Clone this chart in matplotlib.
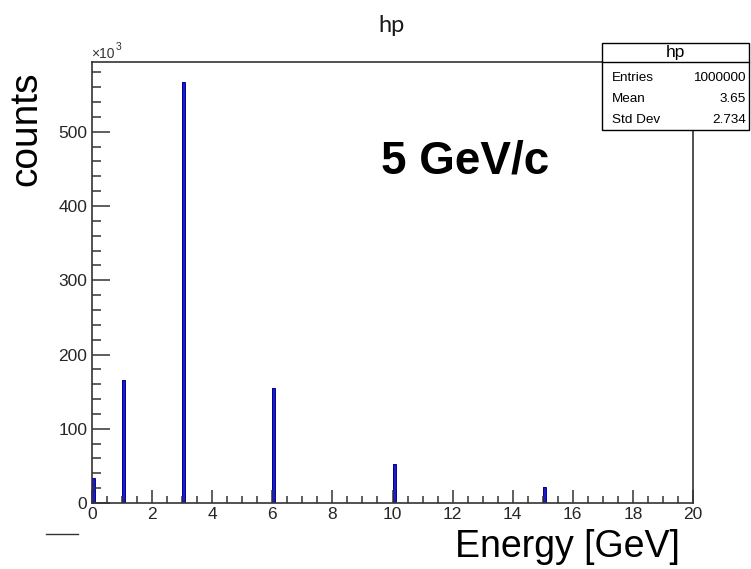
import numpy as np
import matplotlib
matplotlib.use("Agg")
import matplotlib.pyplot as plt
from matplotlib.patches import Rectangle
from matplotlib.lines import Line2D
from matplotlib.ticker import MultipleLocator, FuncFormatter

# Energy deposits (GeV) and their entry counts
energies = [0, 1, 3, 6, 10, 15]
counts = [34000, 166000, 567000, 155000, 52500, 21500]

# Histogram binning
n_bins = 200
x_range = (0, 20)

stats_title = "hp"
stats_rows = [("Entries", "1000000"), ("Mean", "3.65"), ("Std Dev", "2.734")]

W, H = 751, 569
FONT = "Liberation Sans"
AXCOL = "#333333"

fig = plt.figure(figsize=(W / 100, H / 100), dpi=100)
fig.patch.set_facecolor("white")


def fx(x):
    return x / W


def fy(y):
    return 1 - y / H


left, right, top, bottom = 92, 693, 62, 503
ax = fig.add_axes([fx(left), fy(bottom), fx(right - left), (bottom - top) / H])

edges = np.linspace(x_range[0], x_range[1], n_bins + 1)
hist, _ = np.histogram(np.array(energies) + 0.05, bins=edges, weights=counts)
ax.stairs(hist, edges, fill=True, color="#1c1cc4", linewidth=0)
ax.stairs(hist, edges, color="#000099", linewidth=0.7)

ax.set_xlim(*x_range)
ax.set_ylim(0, 594000)

for side in ["left", "right", "top", "bottom"]:
    ax.spines[side].set_color(AXCOL)
    ax.spines[side].set_linewidth(1.2)

ax.xaxis.set_major_locator(MultipleLocator(2))
ax.xaxis.set_minor_locator(MultipleLocator(0.5))
ax.yaxis.set_major_locator(MultipleLocator(100000))
ax.yaxis.set_minor_locator(MultipleLocator(20000))
ax.yaxis.set_major_formatter(FuncFormatter(lambda v, p: f"{v / 1000:.0f}"))

ax.tick_params(axis="x", which="major", direction="in", length=9.4, width=1.1,
               color=AXCOL, labelsize=12.5, labelcolor="#262626", pad=3)
ax.tick_params(axis="x", which="minor", direction="in", length=4.8, width=1.1,
               color=AXCOL)
ax.tick_params(axis="y", which="major", direction="in", length=13, width=1.1,
               color=AXCOL, labelsize=12.5, labelcolor="#262626", pad=3.5)
ax.tick_params(axis="y", which="minor", direction="in", length=6.5, width=1.1,
               color=AXCOL)
for lab in ax.get_xticklabels() + ax.get_yticklabels():
    lab.set_fontfamily(FONT)

# Titles and annotations
fig.text(fx(392), fy(26), "hp", ha="center", va="center", fontsize=17,
         family="Lato", color="#1a1a1a")
fig.text(fx(26), fy(129), "counts", ha="center", va="center", rotation=90,
         fontsize=28, family=FONT, color="black")
fig.text(fx(680), fy(547), "Energy [GeV]", ha="right", va="center",
         fontsize=27, family=FONT, color="black")
fig.text(fx(381), fy(161), "5 GeV/c", ha="left", va="center",
         fontsize=33, family=FONT, weight="bold", color="black")
fig.text(fx(91), fy(54.5), "×10", ha="left", va="center",
         fontsize=10, family=FONT, color="#333333")
fig.text(fx(115.5), fy(47.5), "3", ha="left", va="center",
         fontsize=7.5, family=FONT, color="#333333")

fig.add_artist(Line2D([fx(46), fx(78)], [fy(534), fy(534)],
                      transform=fig.transFigure, color="#333333", linewidth=1))

# Statistics box
bx0, bx1, by0, by1, bdiv = 602, 749, 43, 130, 62
fig.add_artist(Rectangle((fx(bx0), fy(by1)), fx(bx1 - bx0), (by1 - by0) / H,
                         transform=fig.transFigure, facecolor="white",
                         edgecolor="black", linewidth=1.0, zorder=5))
fig.add_artist(Line2D([fx(bx0), fx(bx1)], [fy(bdiv), fy(bdiv)],
                      transform=fig.transFigure, color="black", linewidth=1.0,
                      zorder=6))
fig.text(fx((bx0 + bx1) / 2), fy(52.5), stats_title, ha="center", va="center",
         fontsize=12.5, family=FONT, zorder=7)
row_y = [78, 99, 120]
for (name, val), yy in zip(stats_rows, row_y):
    fig.text(fx(612), fy(yy), name, ha="left", va="center", fontsize=9.7,
             family=FONT, zorder=7)
    fig.text(fx(746), fy(yy), val, ha="right", va="center", fontsize=9.7,
             family=FONT, zorder=7)

fig.savefig("out.png", dpi=100, facecolor="white")
